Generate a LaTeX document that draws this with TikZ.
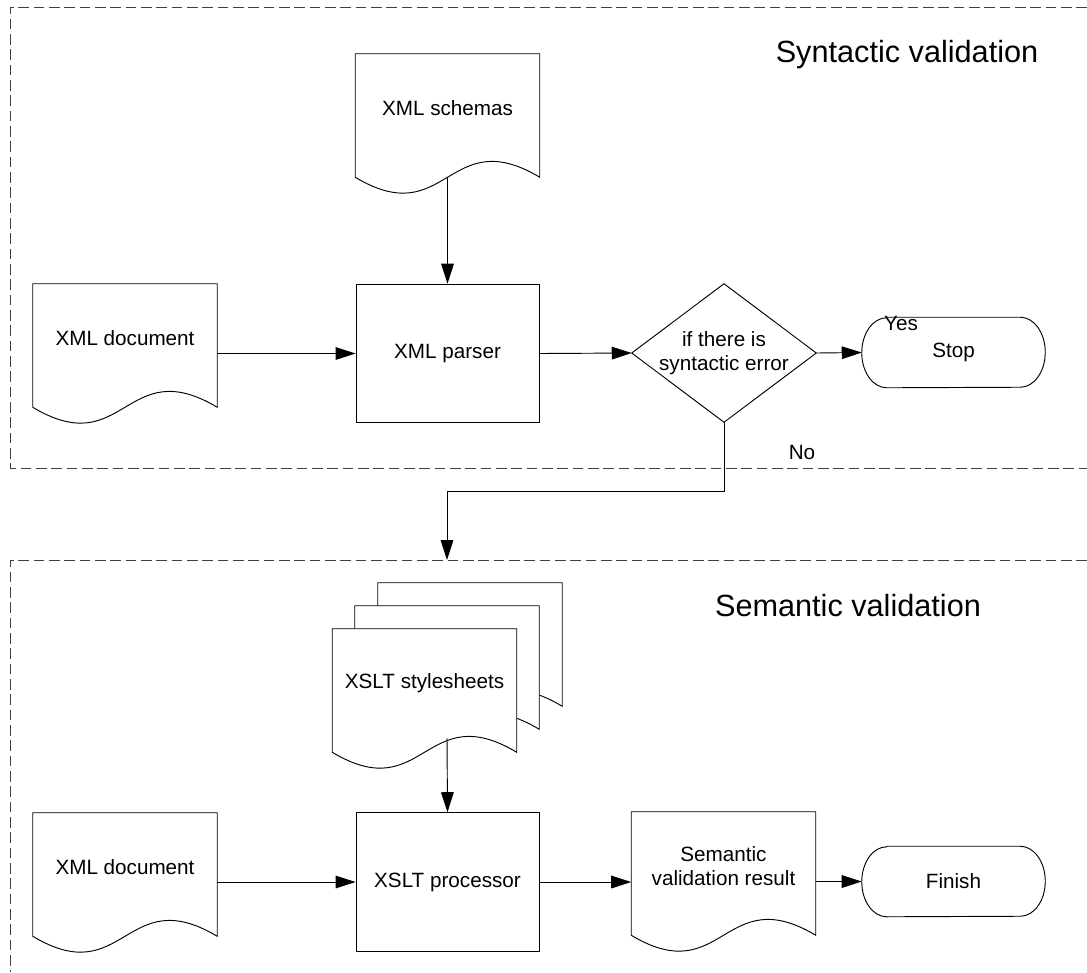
\documentclass[tikz,border=0pt]{standalone}
\usepackage{fontspec}
\setmainfont{Liberation Sans}
\usetikzlibrary{arrows.meta,backgrounds,calc}

\newcommand{\boxfont}{\fontsize{15.5}{18}\selectfont}
\newcommand{\titlefont}{\fontsize{23}{27}\selectfont}

% page outline with wavy foot, drawn behind the named node
\newcommand{\docoutline}[1]{%
  \draw[flow,fill=white] (#1.north west) -- (#1.north east) -- ($(#1.south east)+(0,15)$)
    .. controls +(-92,-55) and +(92,55) .. ($(#1.south west)+(0,15)$) -- cycle;
  \coordinate (#1-foot) at ($(#1.south)+(0,15)$);}

% terminator outline with flat elliptic ends
\newcommand{\termoutline}[1]{%
  \draw[flow] ($(#1.north west)+(25,0)$) -- ($(#1.north east)+(-25,0)$)
    arc[start angle=-90,end angle=90,x radius=25,y radius=35]
    -- ($(#1.south west)+(25,0)$)
    arc[start angle=90,end angle=270,x radius=25,y radius=35] -- cycle;}

\tikzset{
  flow/.style={line width=0.7pt},
  arr/.style={flow,-{Triangle[length=15pt,width=9.5pt]}},
  frame/.style={line width=0.7pt,black!75,dash pattern=on 8pt off 3.5pt},
  docpage/.style={minimum width=138pt,minimum height=81pt,inner sep=0pt,align=center,font=\boxfont},
  procbox/.style={draw,flow,minimum width=137.25pt,minimum height=104pt,inner sep=0pt,font=\boxfont},
  choice/.style={minimum width=138pt,minimum height=103.5pt,inner sep=0pt,align=center,font=\boxfont},
  termbox/.style={minimum width=137.25pt,minimum height=52.5pt,inner sep=0pt,font=\boxfont},
  note/.style={inner sep=0pt,font=\boxfont},
  heading/.style={inner sep=0pt,font=\titlefont}
}

\begin{document}
\begin{tikzpicture}[x=0.75pt,y=0.75pt,yscale=-1,xscale=1]
\useasboundingbox (0,0) rectangle (1087,972);

% Frames
\draw[frame] (1087,7) -- (10,7) -- (10,468) -- (1087,468);
\draw[frame] (1087,560) -- (10,560) -- (10,972);

\node[heading] (syntitle) at (907,55) {Syntactic validation};
\node[heading] (semtitle) at (848,606) {Semantic validation};

% Syntactic part
\node[docpage] (schemas) at (447.5,108) {XML schemas};
\node[docpage] (xmldoc) at (125,338) {XML document};
\node[procbox] (parser) at (447.5,353.5) {XML parser};
\node[choice] (check) at (724,353) {if there is\\syntactic error};
\draw[flow] (check.north) -- (check.east) -- (check.south) -- (check.west) -- cycle;
\node[termbox] (stop) at (953.5,352.5) {Stop};
\termoutline{stop}
\node[note] (yes) at (901,323) {Yes};
\node[note] (no) at (802,452) {No};

% Semantic part
\node[docpage] (sheetsc) at (470,637) {};
\node[docpage] (sheetsb) at (447,660) {};
\node[docpage] (sheets) at (424.5,683) {XSLT stylesheets};
\node[docpage] (xmldocb) at (125,867) {XML document};
\node[procbox] (proc) at (447.5,882) {XSLT processor};
\node[docpage] (result) at (723.5,866) {Semantic\\validation result};
\node[termbox] (finish) at (953.5,881.5) {Finish};
\termoutline{finish}

\begin{pgfonlayer}{background}
\docoutline{schemas}
\docoutline{xmldoc}
\docoutline{sheetsc}
\docoutline{sheetsb}
\docoutline{sheets}
\docoutline{xmldocb}
\docoutline{result}
\end{pgfonlayer}

% Connectors
\coordinate (semtop) at (447,560);
\coordinate (sheetsout) at (447,738);
\draw[arr] (schemas-foot) -- (parser.north);
\draw[arr] (xmldoc.east |- parser.west) -- (parser.west);
\draw[arr] (parser.east) -- (check.west);
\draw[arr] (check.east) -- (stop.west);
\draw[arr] (check.south) -- ++(0,69) -| (semtop);
\draw[arr] (sheetsout) -- (proc.north);
\draw[arr] (xmldocb.east |- proc.west) -- (proc.west);
\draw[arr] (proc.east) -- (result.west |- proc.east);
\draw[arr] (result.east |- finish.west) -- (finish.west);

\end{tikzpicture}
\end{document}
